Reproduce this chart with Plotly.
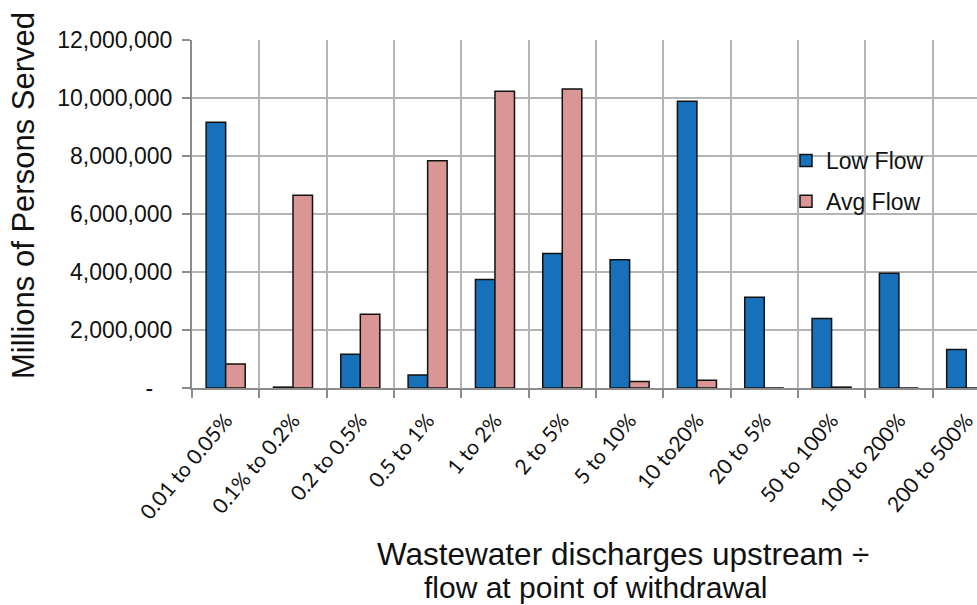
import plotly.graph_objects as go

categories = ["0.01 to 0.05%", "0.1% to 0.2%", "0.2 to 0.5%", "0.5 to 1%", "1 to 2%", "2 to 5%",
              "5 to 10%", "10 to20%", "20 to 5%", "50 to 100%", "100 to 200%", "200 to 500%"]
low_flow = [9160000, 30000, 1160000, 450000, 3740000, 4640000,
            4420000, 9890000, 3130000, 2400000, 3960000, 1330000]
avg_flow = [830000, 6650000, 2540000, 7840000, 10230000, 10310000,
            220000, 270000, 0, 30000, 0, 0]
y_tickvals = [0, 2000000, 4000000, 6000000, 8000000, 10000000, 12000000]
y_ticktext = ["-\u00a0\u00a0\u00a0", "2,000,000", "4,000,000", "6,000,000", "8,000,000", "10,000,000", "12,000,000"]

W, H = 977, 605
L, R, T, B = 192, 0, 40, 217
pw, ph = W - L - R, H - T - B

def px_x(x):
    return (x - L) / pw

def px_y(y):
    return (H - B - y) / ph

fig = go.Figure()
fig.add_trace(go.Bar(x=categories, y=low_flow, name="Low Flow", legendgroup="a",
                     marker=dict(color="#1770BA", line=dict(color="#111111", width=1.5))))
fig.add_trace(go.Bar(x=categories, y=avg_flow, name="Avg Flow", legendgroup="b",
                     marker=dict(color="#D99694", line=dict(color="#111111", width=1.5))))

grid = "#b4b4b4"
axis = "#8c8c8c"
fig.update_layout(
    width=W, height=H,
    margin=dict(l=L, r=R, t=T, b=B, autoexpand=False),
    paper_bgcolor="white", plot_bgcolor="white",
    barmode="group", bargap=0.42, bargroupgap=0,
    font=dict(family="Liberation Sans, Arial", color="#111111"),
    showlegend=True,
    legend=dict(x=px_x(786), y=px_y(139), xanchor="left", yanchor="top",
                font=dict(size=23, family="Liberation Sans, Arial"),
                bgcolor="rgba(0,0,0,0)", tracegroupgap=8, traceorder="grouped"),
    xaxis=dict(type="category", range=[-0.5, 11.16], tickson="boundaries", automargin=False,
               ticks="outside", ticklen=8, tickcolor=axis, tickwidth=1.5,
               showgrid=True, gridcolor=grid, gridwidth=1.5,
               showline=True, linecolor=axis, linewidth=2, ticklabelstandoff=10,
               tickangle=-50, tickfont=dict(family="Lato", size=21, color="#111111")),
    yaxis=dict(range=[0, 12000000], tickvals=y_tickvals, ticktext=y_ticktext, automargin=False,
               ticks="outside", ticklen=8, tickcolor=axis, tickwidth=1.5,
               showgrid=True, gridcolor=grid, gridwidth=1.5, zeroline=False,
               showline=True, linecolor=axis, linewidth=2, ticklabelstandoff=5,
               tickfont=dict(size=23, family="Liberation Sans, Arial", color="#111111")),
    annotations=[
        dict(text="Wastewater discharges upstream ÷", xref="paper", yref="paper",
             x=px_x(623), y=px_y(554), xanchor="center", yanchor="middle",
             showarrow=False, font=dict(size=31.5, family="Liberation Sans, Arial")),
        dict(text="flow at point of withdrawal", xref="paper", yref="paper",
             x=px_x(596), y=px_y(587), xanchor="center", yanchor="middle",
             showarrow=False, font=dict(size=30, family="Liberation Sans, Arial")),
        dict(text="Millions of Persons Served", xref="paper", yref="paper",
             x=px_x(23), y=px_y(196), xanchor="center", yanchor="middle", textangle=-90,
             showarrow=False, font=dict(size=31, family="Liberation Sans, Arial")),
    ],
)

fig.write_html("out.html", post_script="document.body.style.margin='0';",
               config={"displayModeBar": False})
